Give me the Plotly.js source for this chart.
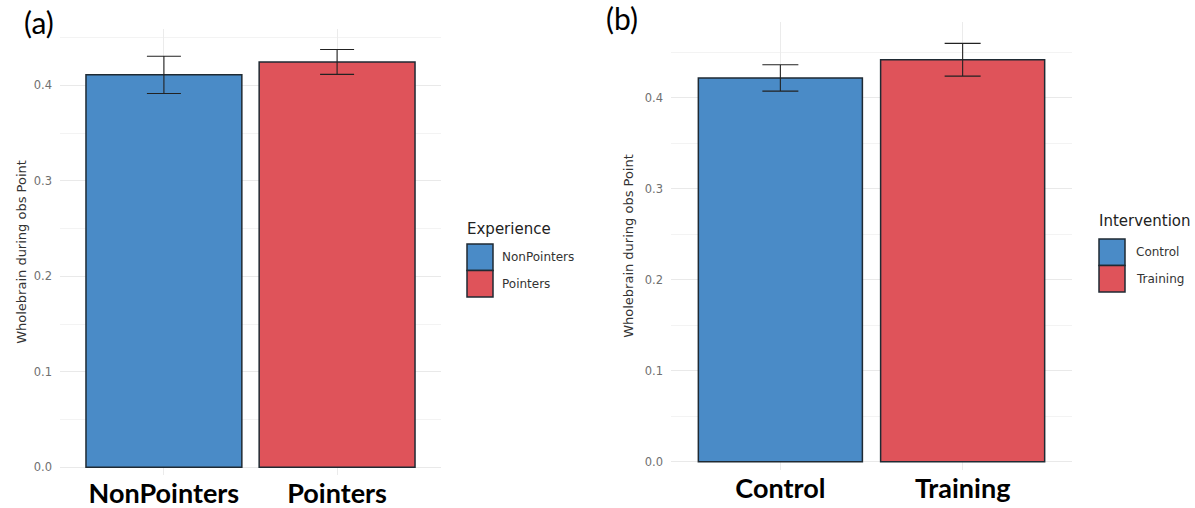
<!DOCTYPE html>
<html>
<head>
<meta charset="utf-8">
<script src="https://cdn.plot.ly/plotly-3.0.1.min.js"></script>
<style>html,body{margin:0;padding:0;background:#fff;}#chart{width:1195px;height:508px;}</style>
</head>
<body>
<div id="chart"></div>
<script>
// Panel (a)
const expCategories = ["NonPointers", "Pointers"];
const expValues = [0.411, 0.4245];
const expErrors = [0.0195, 0.013];
// Panel (b)
const intCategories = ["Control", "Training"];
const intValues = [0.422, 0.442];
const intErrors = [0.0145, 0.018];

const yTitle = "Wholebrain during obs Point";
const colors = ["#4A8BC7", "#DF535A"];
const outline = "#1f2a33";
const W = 1195, H = 508;
const px = x => x / W;
const py = y => 1 - y / H;
const sans = "DejaVu Sans, Liberation Sans, sans-serif";

const barTrace = (cats, vals, errs, xa, ya, capw) => ({
  type: "bar", x: cats, y: vals, xaxis: xa, yaxis: ya, width: 0.9,
  marker: {color: colors, line: {color: outline, width: 1.5}},
  error_y: {type: "data", array: errs, visible: true, color: "#222", thickness: 1.1, width: capw},
  showlegend: false, hoverinfo: "x+y"
});

const data = [
  barTrace(expCategories, expValues, expErrors, "x", "y", 17),
  barTrace(intCategories, intValues, intErrors, "x2", "y2", 18)
];

const tickFont = {family: sans, size: 11.5, color: "#707070"};
const catFont = {family: "Lato, Open Sans, sans-serif", size: 27, color: "#000", weight: 700};
const yaxisBase = (range, dom, anchor, standoff) => ({
  domain: dom, anchor: anchor, range: range, dtick: 0.1, tick0: 0, tickformat: ".1f",
  showgrid: true, gridcolor: "#e9e9e9", gridwidth: 1, zeroline: false, showline: false,
  ticks: "", tickfont: tickFont, ticklabelstandoff: 7,
  minor: {dtick: 0.05, showgrid: true, gridcolor: "#f3f3f3", gridwidth: 1},
  title: {text: yTitle, font: {family: sans, size: 13, color: "#333"}, standoff: standoff}
});
const xaxisBase = (dom, anchor) => ({
  domain: dom, anchor: anchor, type: "category", range: [-0.6, 1.6],
  showgrid: true, gridcolor: "#ebebeb", zeroline: false, showline: false, ticks: "",
  tickfont: catFont, ticklabelstandoff: 0
});

const shapes = [];
const annotations = [];
function legend(title, cats, x0, titleY, boxTop, boxW, boxH, labelX) {
  annotations.push({xref: "paper", yref: "paper", x: px(x0 - 2), y: py(titleY), xanchor: "left", yanchor: "middle",
    text: title, showarrow: false, font: {family: sans, size: 15, color: "#222"}});
  cats.forEach((c, i) => {
    const t = boxTop + i * boxH;
    shapes.push({type: "rect", xref: "paper", yref: "paper", x0: px(x0), x1: px(x0 + boxW), y0: py(t + boxH), y1: py(t),
      fillcolor: colors[i], line: {color: outline, width: 1.5}});
    annotations.push({xref: "paper", yref: "paper", x: px(labelX - 2), y: py(t + boxH / 2), xanchor: "left", yanchor: "middle",
      text: c, showarrow: false, font: {family: sans, size: 12, color: "#333"}});
  });
}
legend("Experience", expCategories, 467, 229, 244, 26, 26.5, 502);
legend("Intervention", intCategories, 1099, 221, 239, 26, 26.5, 1136);

annotations.push({xref: "paper", yref: "paper", x: px(22), y: py(22), xanchor: "left", yanchor: "middle",
  text: "(a)", showarrow: false, font: {family: "Lato, Open Sans, sans-serif", size: 30, color: "#000"}});
annotations.push({xref: "paper", yref: "paper", x: px(604), y: py(18), xanchor: "left", yanchor: "middle",
  text: "(b)", showarrow: false, font: {family: "Lato, Open Sans, sans-serif", size: 30, color: "#000"}});

const layout = {
  width: W, height: H, margin: {l: 0, r: 0, t: 0, b: 0},
  paper_bgcolor: "#fff", plot_bgcolor: "#fff", showlegend: false,
  xaxis: xaxisBase([px(60), px(441)], "y"),
  yaxis: yaxisBase([-0.008, 0.459], [py(475), py(29)], "x", 4),
  xaxis2: xaxisBase([px(671), px(1072)], "y2"),
  yaxis2: yaxisBase([-0.009, 0.4835], [py(470), py(22)], "x2", 8),
  shapes: shapes, annotations: annotations
};

Plotly.newPlot("chart", data, layout, {displayModeBar: false, staticPlot: true});
</script>
</body>
</html>
